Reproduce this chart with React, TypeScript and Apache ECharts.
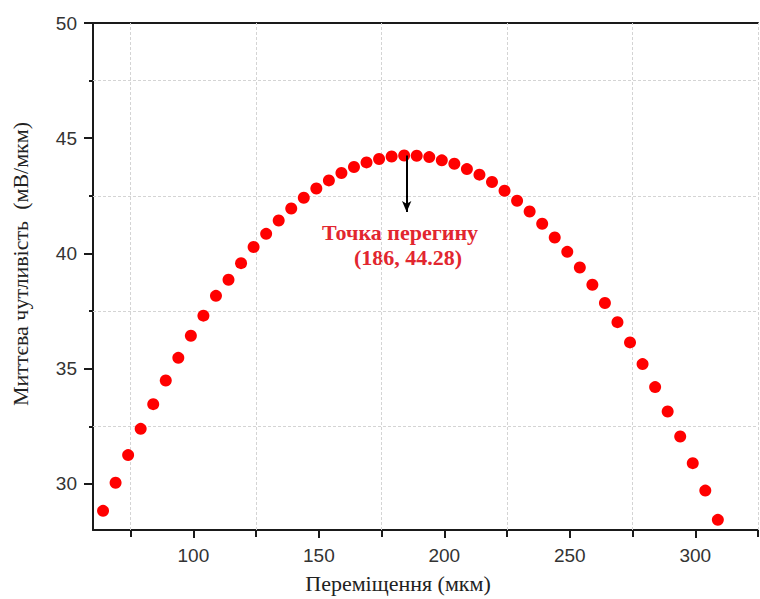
import React, { useEffect, useRef } from "react";
import * as echarts from "echarts";

const xValues = [64, 69, 74, 79, 84, 89, 94, 99, 104, 109, 114, 119, 124, 129, 134, 139, 144, 149, 154, 159, 164, 169, 174, 179, 184, 189, 194, 199, 204, 209, 214, 219, 224, 229, 234, 239, 244, 249, 254, 259, 264, 269, 274, 279, 284, 289, 294, 299, 304, 309];
const yValues = [28.83, 30.05, 31.25, 32.39, 33.46, 34.49, 35.47, 36.43, 37.3, 38.16, 38.86, 39.58, 40.28, 40.85, 41.43, 41.95, 42.42, 42.82, 43.17, 43.49, 43.75, 43.95, 44.1, 44.21, 44.25, 44.24, 44.18, 44.04, 43.89, 43.66, 43.42, 43.1, 42.72, 42.29, 41.82, 41.29, 40.69, 40.07, 39.39, 38.64, 37.85, 37.02, 36.14, 35.2, 34.2, 33.14, 32.06, 30.9, 29.71, 28.44];

const xMajorTicks = [100, 150, 200, 250, 300];
const xMinorTicks = [75, 125, 175, 225, 275, 325];
const yMajorTicks = [30, 35, 40, 45, 50];
const yMinorTicks = [32.5, 37.5, 42.5, 47.5];

const arrowFrom = [185, 44.25];
const arrowTo = [185, 41.8];

const annotationLine1 = "Точка перегину";
const annotationLine2 = "(186, 44.28)";
const xTitle = "Переміщення (мкм)";
const yTitle = "Миттєва чутливість  (мВ/мкм)";

export default function App() {
  const ref = useRef<HTMLDivElement>(null);
  useEffect(() => {
    if (!ref.current) return;
    const chart = echarts.init(ref.current, null, { renderer: "svg" });
    const axisLine = { show: true, lineStyle: { color: "#1a1a1a", width: 2 } };
    const labelStyle = { color: "#333", fontSize: 19, fontFamily: "Liberation Sans, Arial, sans-serif" };
    const gridLineStyle = { color: "#d4d4d4", type: [3, 2] as any, width: 1 };
    const option: any = {
      animation: false,
      grid: { left: 93, right: 2, top: 23, bottom: 69, containLabel: false, outerBoundsMode: "none" },
      xAxis: [
        {
          type: "value", min: 60, max: 325, position: "bottom",
          axisLine,
          axisTick: { show: true, length: 8, lineStyle: { color: "#1a1a1a", width: 2 }, customValues: xMajorTicks },
          axisLabel: { ...labelStyle, margin: 16, customValues: xMajorTicks },
          splitLine: { show: false },
        },
        {
          type: "value", min: 60, max: 325, position: "bottom",
          axisLine: { show: false },
          axisTick: { show: true, length: 7, lineStyle: { color: "#1a1a1a", width: 2 }, customValues: xMinorTicks },
          axisLabel: { show: false },
          splitLine: { show: false },
        },
        {
          type: "value", min: 60, max: 325, position: "top",
          axisLine,
          axisTick: { show: false },
          axisLabel: { show: false },
          splitLine: { show: false },
        },
      ],
      yAxis: [
        {
          type: "value", min: 28, max: 50, position: "left",
          axisLine,
          axisTick: { show: true, length: 9, lineStyle: { color: "#1a1a1a", width: 2 }, customValues: yMajorTicks },
          axisLabel: { ...labelStyle, margin: 16, customValues: yMajorTicks },
          splitLine: { show: false },
        },
        {
          type: "value", min: 28, max: 50, position: "left",
          axisLine: { show: false },
          axisTick: { show: true, length: 4, lineStyle: { color: "#1a1a1a", width: 2 }, customValues: yMinorTicks },
          axisLabel: { show: false },
          splitLine: { show: false },
        },
      ],
      series: [
        {
          type: "scatter",
          xAxisIndex: 0, yAxisIndex: 0,
          data: [],
          z: 1,
          silent: true,
          markLine: {
            silent: true,
            z: 1,
            symbol: ["none", "none"],
            label: { show: false },
            lineStyle: gridLineStyle,
            data: [
              ...yMinorTicks.map((v) => ({ yAxis: v })),
              ...xMinorTicks.map((v) => ({ xAxis: v })),
            ],
          },
        },
        {
          type: "scatter",
          xAxisIndex: 0, yAxisIndex: 0,
          symbol: "circle",
          symbolSize: 12,
          itemStyle: { color: "#ff0000", opacity: 1 },
          data: xValues.map((x, i) => [x, yValues[i]]),
          z: 5,
        },
        {
          type: "scatter",
          xAxisIndex: 0, yAxisIndex: 0,
          data: [],
          z: 6,
          markLine: {
            silent: true,
            z: 6,
            symbol: ["none", "arrow"],
            symbolSize: [7, 11],
            label: { show: false },
            lineStyle: { color: "#000", width: 2, type: "solid" },
            data: [[{ coord: arrowFrom }, { coord: arrowTo }]],
          },
        },
      ],
      graphic: [
        {
          type: "text", x: 400, y: 232,
          style: { text: annotationLine1, fill: "#e2262f", font: "bold 22px 'Liberation Serif', 'Times New Roman', serif", textAlign: "center", textVerticalAlign: "middle" },
        },
        {
          type: "text", x: 408, y: 257,
          style: { text: annotationLine2, fill: "#e2262f", font: "bold 22px 'Liberation Serif', 'Times New Roman', serif", textAlign: "center", textVerticalAlign: "middle" },
        },
        {
          type: "text", x: 398, y: 583,
          style: { text: xTitle, fill: "#222", font: "22px 'Liberation Serif', 'Times New Roman', serif", textAlign: "center", textVerticalAlign: "middle" },
        },
        {
          type: "text", x: 20, y: 264, rotation: Math.PI / 2,
          style: { text: yTitle, fill: "#222", font: "22px 'Liberation Serif', 'Times New Roman', serif", textAlign: "center", textVerticalAlign: "middle" },
        },
      ],
    };
    chart.setOption(option);
    return () => chart.dispose();
  }, []);
  return <div ref={ref} style={{ position: "absolute", left: 0, top: 0, width: 760, height: 599 }} />;
}
